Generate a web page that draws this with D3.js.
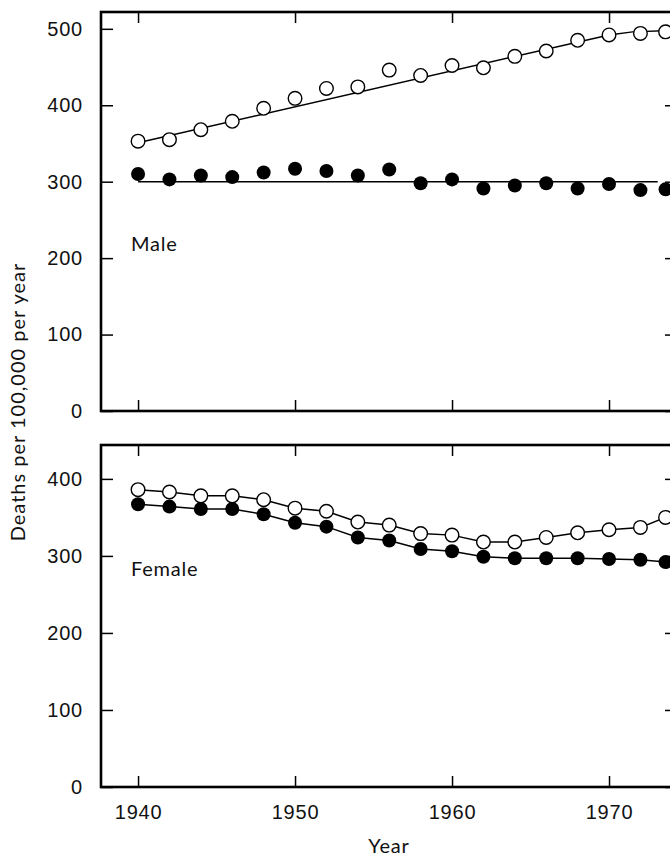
<!DOCTYPE html>
<html>
<head>
<meta charset="utf-8">
<script src="https://cdn.jsdelivr.net/npm/d3@7"></script>
<style>
  body { margin: 0; background: #fff; overflow: hidden; }
  svg { display: block; font-family: Lato, "Open Sans", sans-serif; letter-spacing: 0.8px; }
  .tick line { stroke: #000; stroke-width: 1.5; }
  .tick text { font-size: 20px; fill: #111; }
</style>
</head>
<body>
<div class="visualisation"></div>
<script>
// Data
const years = [1940, 1942, 1944, 1946, 1948, 1950, 1952, 1954, 1956, 1958,
               1960, 1962, 1964, 1966, 1968, 1970, 1972, 1973.6];

const maleOpen   = [353, 355, 368, 379, 396, 409, 422, 424, 446, 439,
                    452, 449, 464, 471, 485, 492, 494, 496];
const maleFilled = [310, 303, 308, 306, 312, 317, 314, 308, 316, 298,
                    303, 291, 295, 298, 291, 297, 289, 290];

// fitted lines drawn in the male panel
const maleOpenFitYears = [1940, 1970, 1971.5, 1974];
const maleOpenFit      = [351, 492, 496, 498];
const maleFilledFitYears = [1940, 1973.1];
const maleFilledFit      = [300, 300];

const femaleOpen   = [386, 383, 378, 378, 373, 362, 358, 344, 340, 329,
                      327, 318, 318, 324, 330, 334, 337, 350];
const femaleFilled = [367, 364, 361, 361, 354, 343, 338, 324, 320, 309,
                      306, 299, 297, 297, 297, 296, 295, 292];

const xTicks = [1940, 1950, 1960, 1970];
const maleTicks = [0, 100, 200, 300, 400, 500];
const femaleTicks = [0, 100, 200, 300, 400];

// Size related variables
const width = 670;
const height = 859;
const left = 101;
const right = 677;

const svg = d3.select(".visualisation")
    .append("svg")
    .attr("width", width)
    .attr("height", height);

const x = d3.scaleLinear()
    .domain([1937.64, 1974.33])
    .range([left, right]);

const panels = [
    { name: "Male", top: 12, bottom: 411, max: 522, ticks: maleTicks,
      open: maleOpen, filled: maleFilled, labelY: 251, connect: false },
    { name: "Female", top: 445, bottom: 787, max: 444, ticks: femaleTicks,
      open: femaleOpen, filled: femaleFilled, labelY: 576, connect: true }
];

panels.forEach((p, i) => {
    const y = d3.scaleLinear()
        .domain([0, p.max])
        .range([p.bottom, p.top]);
    const g = svg.append("g");

    // inward ticks on all four sides
    g.append("g")
        .attr("transform", `translate(${left},0)`)
        .call(d3.axisLeft(y).tickValues(p.ticks).tickSize(-12).tickPadding(18))
        .call(a => a.select(".domain").remove());
    g.append("g")
        .attr("transform", `translate(${right},0)`)
        .call(d3.axisRight(y).tickValues(p.ticks).tickSize(-12).tickFormat(""))
        .call(a => a.select(".domain").remove());
    g.append("g")
        .attr("transform", `translate(0,${p.top})`)
        .call(d3.axisTop(x).tickValues(xTicks).tickSize(-11).tickFormat(""))
        .call(a => a.select(".domain").remove());
    const bottomAxis = d3.axisBottom(x).tickValues(xTicks).tickSize(-11);
    if (i === 0) bottomAxis.tickFormat("");
    else bottomAxis.tickPadding(18).tickFormat(d3.format("d"));
    g.append("g")
        .attr("transform", `translate(0,${p.bottom})`)
        .call(bottomAxis)
        .call(a => a.select(".domain").remove());

    // frame
    g.append("rect")
        .attr("x", left)
        .attr("y", p.top)
        .attr("width", right - left)
        .attr("height", p.bottom - p.top)
        .attr("fill", "none")
        .attr("stroke", "#000")
        .attr("stroke-width", 2.6);

    const line = d3.line()
        .x(d => x(d[0]))
        .y(d => y(d[1]));

    if (p.connect) {
        [p.filled, p.open].forEach(s => {
            g.append("path")
                .datum(years.map((yr, k) => [yr, s[k]]))
                .attr("d", line)
                .attr("fill", "none")
                .attr("stroke", "#000")
                .attr("stroke-width", 1.5);
        });
    } else {
        g.append("path")
            .datum(maleOpenFitYears.map((yr, k) => [yr, maleOpenFit[k]]))
            .attr("d", line)
            .attr("fill", "none")
            .attr("stroke", "#000")
            .attr("stroke-width", 1.5);
        g.append("path")
            .datum(maleFilledFitYears.map((yr, k) => [yr, maleFilledFit[k]]))
            .attr("d", line)
            .attr("fill", "none")
            .attr("stroke", "#000")
            .attr("stroke-width", 1.5);
    }

    g.selectAll("circle.filled")
        .data(p.filled)
        .enter()
        .append("circle")
        .attr("class", "filled")
        .attr("cx", (d, k) => x(years[k]))
        .attr("cy", d => y(d))
        .attr("r", 7)
        .attr("fill", "#000");

    g.selectAll("circle.open")
        .data(p.open)
        .enter()
        .append("circle")
        .attr("class", "open")
        .attr("cx", (d, k) => x(years[k]))
        .attr("cy", d => y(d))
        .attr("r", 6.8)
        .attr("fill", "#fff")
        .attr("stroke", "#000")
        .attr("stroke-width", 1.4);

    g.append("text")
        .attr("x", 131)
        .attr("y", p.labelY)
        .attr("font-size", 20)
        .attr("fill", "#111")
        .text(p.name);
});

svg.append("text")
    .attr("transform", "translate(25,402) rotate(-90)")
    .attr("text-anchor", "middle")
    .attr("font-size", 20)
    .attr("letter-spacing", "1px")
    .attr("fill", "#111")
    .text("Deaths per 100,000 per year");

svg.append("text")
    .attr("x", 389)
    .attr("y", 853)
    .attr("text-anchor", "middle")
    .attr("font-size", 20)
    .attr("fill", "#111")
    .text("Year");
</script>
</body>
</html>
